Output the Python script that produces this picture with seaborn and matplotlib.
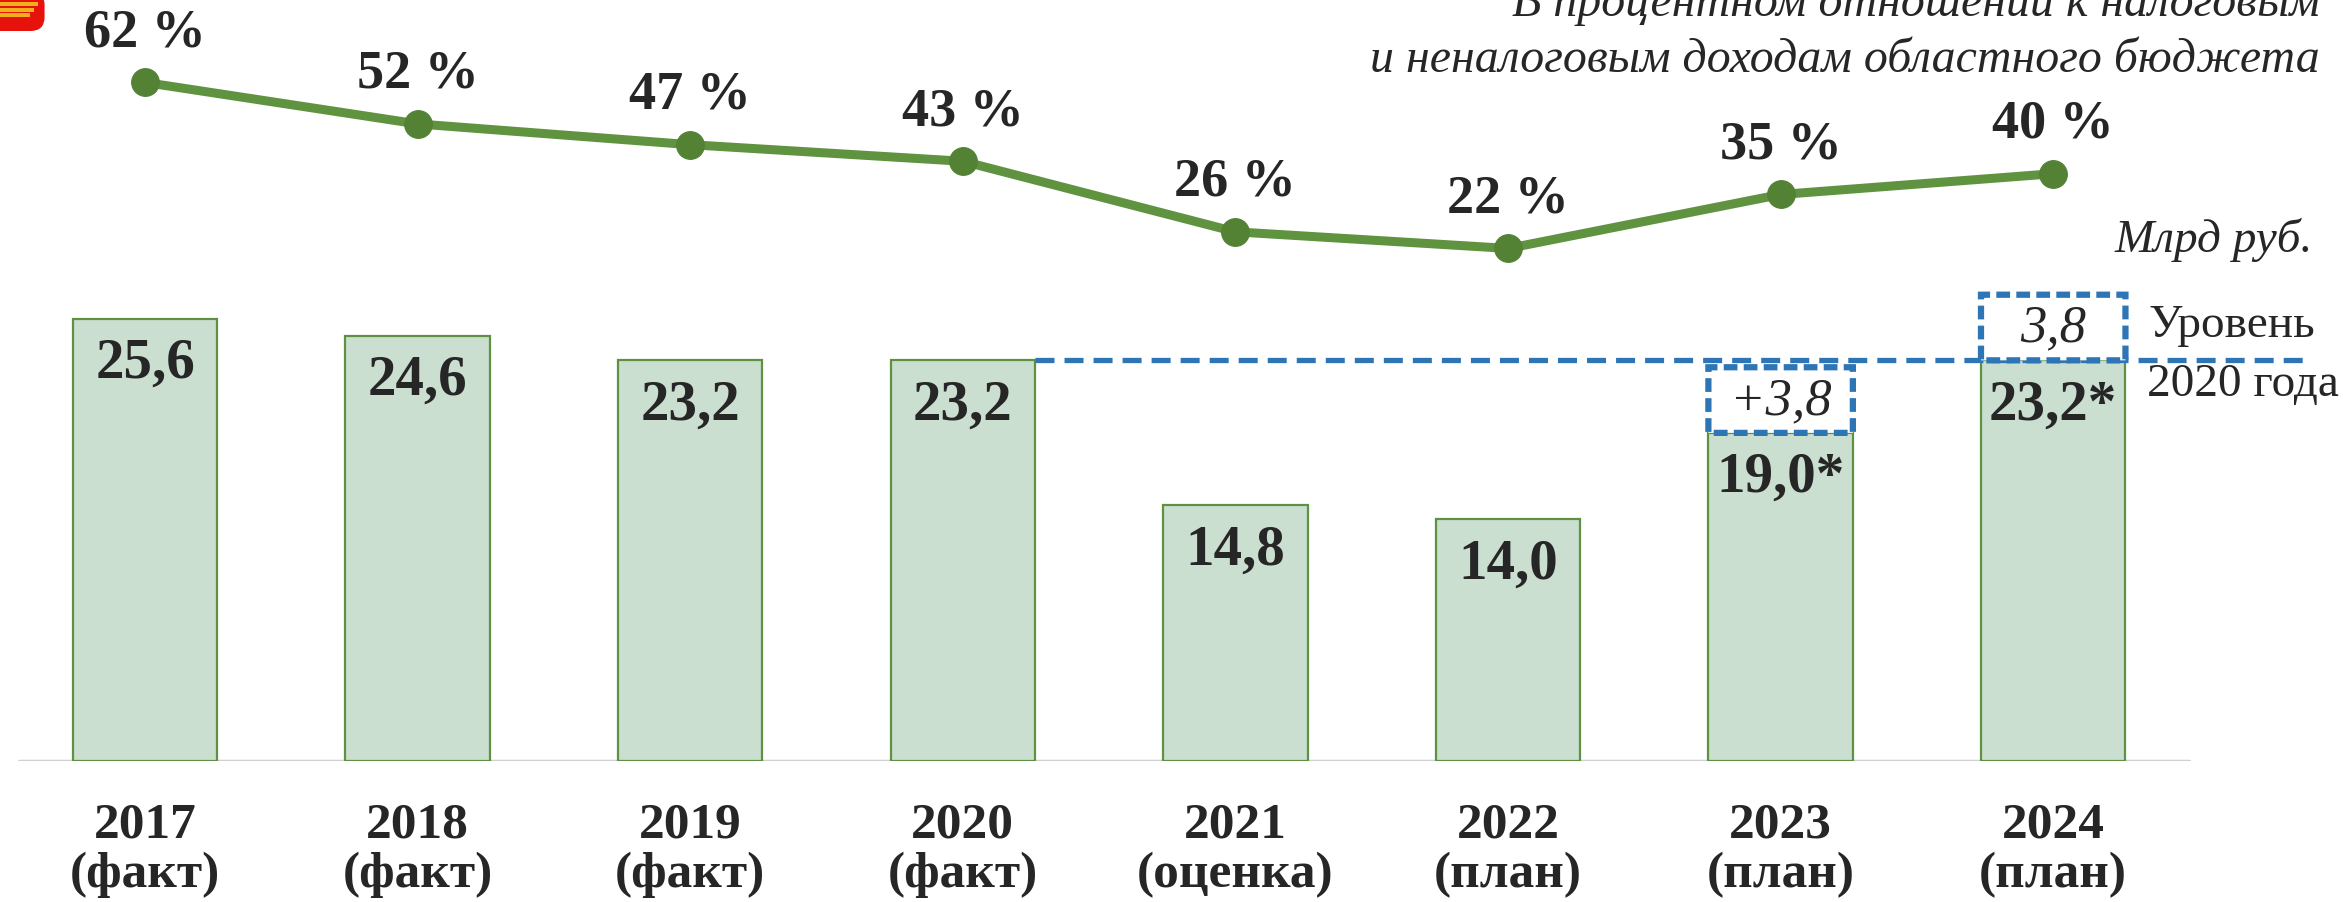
import numpy as np
import pandas as pd
import matplotlib
matplotlib.use("Agg")
import matplotlib.pyplot as plt
import matplotlib.patches as mpatches
import seaborn as sns

# chart data
years = ["2017", "2018", "2019", "2020", "2021", "2022", "2023", "2024"]
status = ["(факт)", "(факт)", "(факт)", "(факт)", "(оценка)", "(план)", "(план)", "(план)"]
debt_bn = [25.6, 24.6, 23.2, 23.2, 14.8, 14.0, 19.0, 23.2]
debt_labels = ["25,6", "24,6", "23,2", "23,2", "14,8", "14,0", "19,0*", "23,2*"]
share_pct = [62, 52, 47, 43, 26, 22, 35, 40]
level_2020 = 23.2
gap_bn = 3.8

GREEN_FILL = "#CADFD0"
GREEN_EDGE = "#5E9141"
LINE_GREEN = "#5F9340"
MARKER_GREEN = "#548235"
BLUE = "#2E75B6"

sns.set_theme(style="white")
plt.rcParams["font.family"] = ["Liberation Serif", "DejaVu Serif"]

W, H = 2343, 903
fig = plt.figure(figsize=(W / 100, H / 100), dpi=100)
base = 141 / H
ax = fig.add_axes([0, base, 1, 1 - base])
ax2 = ax.twinx()

df = pd.DataFrame({"pos": np.arange(len(years)), "year": years,
                   "debt": debt_bn, "share": share_pct})

bar_w = 0.53
sns.barplot(data=df, x="pos", y="debt", ax=ax, color=GREEN_FILL, saturation=1,
            width=bar_w, edgecolor=GREEN_EDGE, linewidth=1.6, zorder=2)
ax.set_xlim(-0.532, -0.532 + W / 272.6)
ax.set_ylim(0, (H - 141) / 17.27)

sns.lineplot(data=df, x="pos", y="share", ax=ax2, color=LINE_GREEN, linewidth=6.5,
             marker="o", markersize=20, markerfacecolor=MARKER_GREEN,
             markeredgecolor=MARKER_GREEN, zorder=3)
ax2.set_ylim(-101.5, 82.1)

for a in (ax, ax2):
    a.set_axis_off()

# baseline
ax.axhline(0, xmin=19 / W, xmax=2189 / W, color="#D0D0D0", lw=2.5, zorder=1)

# bar value labels
for i, (v, lab) in enumerate(zip(debt_bn, debt_labels)):
    ax.annotate(lab, (i, v), xytext=(0, -44), textcoords="offset pixels",
                ha="center", va="center", fontsize=41, fontweight="bold", zorder=5)

# percent labels
for i, p in enumerate(share_pct):
    ax2.annotate(f"{p} %", (i, p), xytext=(0, 50), textcoords="offset pixels",
                 ha="center", va="center", fontsize=39, fontweight="bold")

# category labels
for i, (y, s) in enumerate(zip(years, status)):
    ax.text(i, -88 / 17.27, f"{y}\n{s}", ha="center", va="center",
            fontsize=37, fontweight="bold", linespacing=1.1, clip_on=False)

# 2020 level dashed line
ax.plot([3 + bar_w / 2, 7.935], [level_2020, level_2020], color=BLUE, lw=3.8,
        linestyle=(0, (3.6, 1.9)), zorder=4)

# dashed boxes with gap to the 2020 level
boxes = [(6, debt_bn[6], "+3,8"), (7, level_2020, "3,8")]
for i, bottom, lab in boxes:
    rect = mpatches.FancyBboxPatch((i - bar_w / 2, bottom), bar_w, gap_bn,
                                   boxstyle="round,pad=0,rounding_size=0.02",
                                   facecolor="white", edgecolor=BLUE, lw=4.5,
                                   linestyle=(0, (2.2, 1.0)), zorder=6,
                                   mutation_aspect=17.27 / 272.6)
    ax.add_patch(rect)
    ax.text(i, bottom + gap_bn / 2, lab, ha="center", va="center", fontsize=38,
            fontstyle="italic", zorder=7)

ax.text(2232 / W, 1 - 326 / H, "Уровень", transform=fig.transFigure,
        ha="center", va="center", fontsize=34)
ax.text(2243 / W, 1 - 385 / H, "2020 года", transform=fig.transFigure,
        ha="center", va="center", fontsize=34)

# header texts
fig.text(2320 / W, 1 - 4 / H, "В процентном отношении к налоговым", ha="right",
         va="center", fontsize=34.5, fontstyle="italic")
fig.text(2320 / W, 1 - 60 / H, "и неналоговым доходам областного бюджета", ha="right",
         va="center", fontsize=34.5, fontstyle="italic")
fig.text(2313 / W, 1 - 240 / H, "Млрд руб.", ha="right", va="center",
         fontsize=34, fontstyle="italic")

# emblem corner
logo = mpatches.FancyBboxPatch((-0.01, 1 - 32 / H), 68 / W, 40 / H,
                               boxstyle="round,pad=0,rounding_size=0.006",
                               transform=fig.transFigure, facecolor="#E8120C",
                               edgecolor="none", mutation_aspect=W / H)
fig.patches.append(logo)
for k, yy in enumerate([4, 10, 15]):
    fig.patches.append(mpatches.Rectangle((0, 1 - (yy + 3) / H), (38 - 4 * k) / W, 4 / H,
                                          transform=fig.transFigure,
                                          facecolor="#F2B11B", edgecolor="none"))

fig.savefig("out.png", dpi=100)
